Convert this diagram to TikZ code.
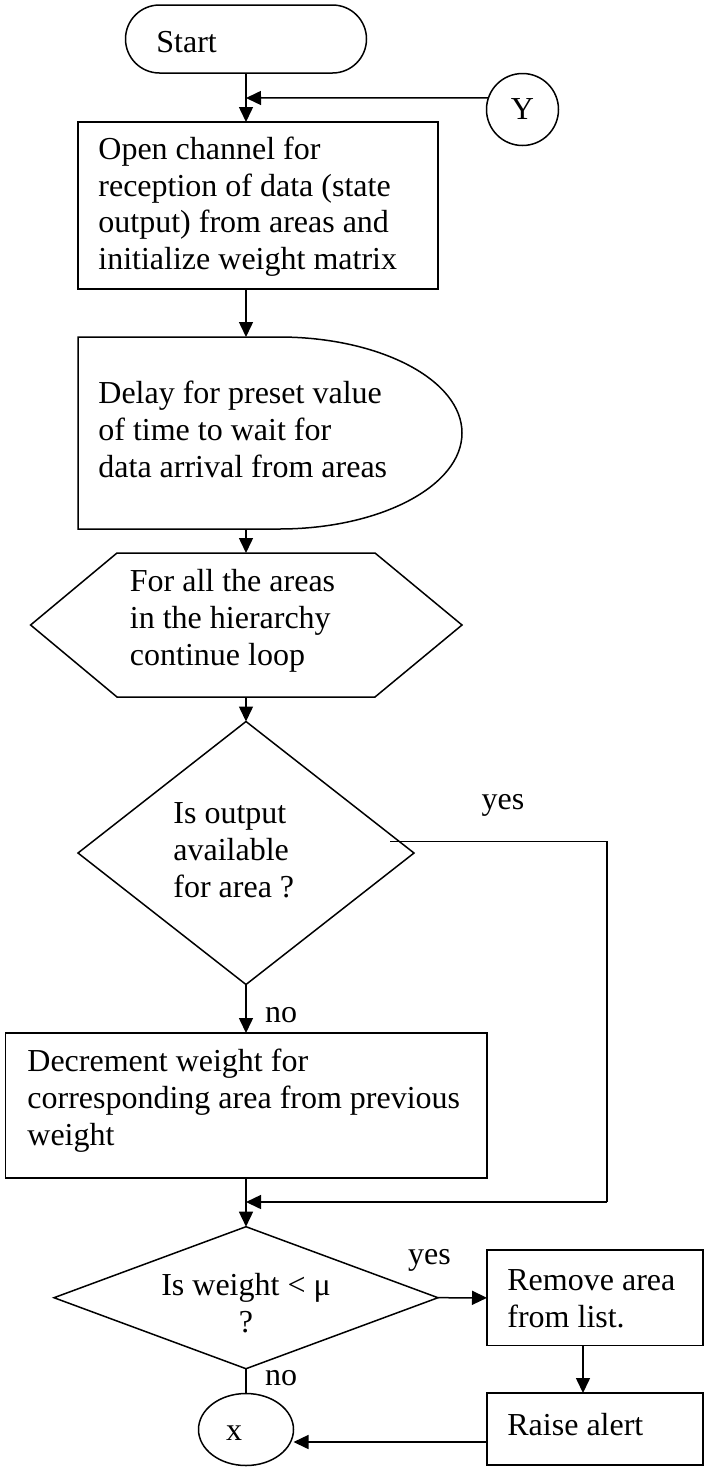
\documentclass[tikz,border=0pt]{standalone}
\usepackage{fontspec}
\setmainfont{Liberation Serif}
\usetikzlibrary{arrows.meta,shapes.geometric,calc}
\begin{document}
\begin{tikzpicture}[x=0.5pt,y=-0.5pt,
  ln/.style={line width=0.75pt},
  arr/.style={ln,-{Triangle[length=7.5pt,width=7pt]}},
  txt/.style={font=\fontsize{16}{18.4}\selectfont,align=left,inner sep=0pt,anchor=west},
  ctxt/.style={font=\fontsize{16}{18.4}\selectfont,align=center,inner sep=0pt},
  shp/.style={draw,ln,inner sep=0pt,outer sep=0pt}]
\useasboundingbox (0,0) rectangle (704,1479);

% Start
\node[shp,rectangle,rounded corners=17pt,minimum width=120.5pt,minimum height=34pt] (start) at (246,39) {};
\node[txt] (tstart) at (156,42) {Start};

% Y connector
\node[shp,circle,minimum size=36pt,ctxt] (Y) at (522.5,109.5) {Y};
\coordinate (j1) at (246,98);

% Box 1
\node[shp,rectangle,minimum width=180pt,minimum height=83.5pt] (b1) at (258,205.5) {};
\node[txt] (t1) at (98,206.75) {Open channel for\\reception of data (state\\output) from areas and\\initialize weight matrix};

% Delay shape
\draw[ln] (78,337) -- (279,337) arc[start angle=90,end angle=-90,x radius=91.5pt,y radius=48pt] -- (78,529) -- cycle;
\coordinate (dT) at (246,337);
\coordinate (dB) at (246,529);
\node[txt] (t2) at (98,429.5) {Delay for preset value\\of time to wait for\\data arrival from areas};

% Hexagon
\draw[ln] (117,553) -- (375,553) -- (462,625) -- (375,697) -- (117,697) -- (30.6,625) -- cycle;
\coordinate (hT) at (246,553);
\coordinate (hB) at (246,697);
\node[txt] (t3) at (129.5,621) {For all the areas\\in the hierarchy\\continue loop};

% Diamond 1
\node[shp,diamond,minimum width=168pt,minimum height=131.5pt] (d1) at (246,853) {};
\node[txt] (t4) at (173,850) {Is output\\available\\for area ?};
\node[ctxt] (lyes1) at (503,805) {yes};
\node[ctxt] (lno1) at (281,1015) {no};

% Box 2
\node[shp,rectangle,minimum width=240.8pt,minimum height=72.5pt] (b2) at (246.2,1105.5) {};
\node[txt] (t5) at (27,1100.5) {Decrement weight for\\corresponding area from previous\\weight};

% Diamond 2
\node[shp,diamond,minimum width=192pt,minimum height=71pt] (d2) at (246,1297.7) {};
\node[ctxt] (t6) at (246,1303) {Is weight < μ\\?};
\node[ctxt] (lyes2) at (429.5,1260) {yes};
\node[ctxt] (lno2) at (281,1378) {no};

% Remove / Raise
\node[shp,rectangle,minimum width=108pt,minimum height=47.85pt] (rem) at (595,1297.85) {};
\node[txt] (t7) at (507,1299) {Remove area\\from list.};
\node[shp,rectangle,minimum width=108pt,minimum height=36pt] (raise) at (595,1429) {};
\node[txt] (t8) at (507,1425) {Raise alert};

% x connector
\node[shp,ellipse,minimum width=47.5pt,minimum height=36pt] (xe) at (246,1429.5) {};
\node[ctxt] (tx) at (234,1433) {x};

% Junctions
\coordinate (j2) at (246,1202);
\coordinate (yc) at (607,1202);
\coordinate (d1yes) at ($($(d1.north)!0.913!(d1.east)$)+(-9,0)$);

% Connectors
\draw[arr] (start.south) -- (start.south |- b1.north);
\draw[arr] (Y.161) -- (j1);
\draw[arr] (dT |- b1.south) -- (dT);
\draw[arr] (dB) -- (hT);
\draw[arr] (hB) -- (d1.north);
\draw[arr] (d1.south) -- (d1.south |- b2.north);
\draw[ln] (d1yes) -| (yc);
\draw[arr] (yc) -- (j2);
\draw[arr] (b2.south -| d2.north) -- (d2.north);
\draw[arr] (d2.east) -- (rem.west);
\draw[arr] ([xshift=-6pt]rem.south) -- ([xshift=-6pt]raise.north);
\draw[ln] (d2.south) -- (xe.north);
\draw[arr] ([yshift=-6.5pt]raise.west) -- ([yshift=-6.5pt]raise.west -| xe.east);
\end{tikzpicture}
\end{document}
